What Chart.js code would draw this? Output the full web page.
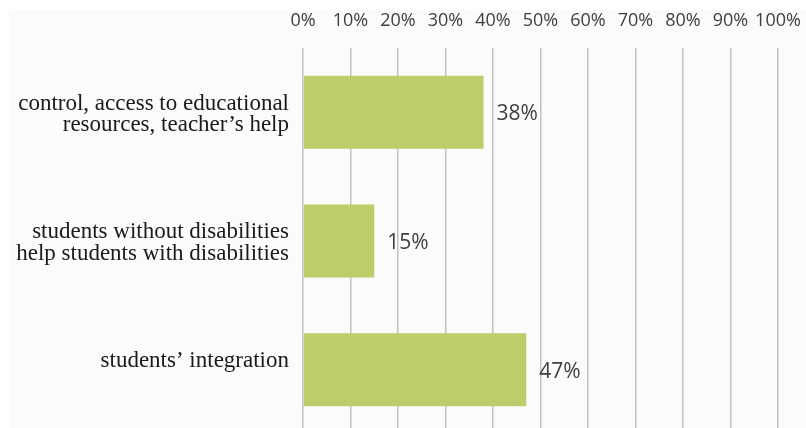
<!DOCTYPE html>
<html>
<head>
<meta charset="utf-8">
<script src="https://cdn.jsdelivr.net/npm/chart.js@4"></script>
<style>
  html, body { margin: 0; padding: 0; background: #ffffff; overflow: hidden; }
  canvas { display: block; }
</style>
</head>
<body>
<canvas id="chart" width="806" height="434"></canvas>
<script>
// Answers (share of respondents, %)
// the single-line label gets an empty second line so it sits a little high
const categories = [
  ["control, access to educational", "resources, teacher\u2019s help"],
  ["students without disabilities", "help students with disabilities"],
  ["students\u2019 integration", ""]
];
const shares = [38, 15, 47];
const tickValues = [0, 10, 20, 30, 40, 50, 60, 70, 80, 90, 100];

// light panel behind the plot
const panel = {
  id: "panel",
  beforeDraw(chart) {
    const ctx = chart.ctx;
    ctx.save();
    ctx.fillStyle = "#fbfbfb";
    ctx.fillRect(9, 10, chart.width - 9, chart.height - 10);
    ctx.restore();
  }
};

// percentage text to the right of each bar
const valueLabels = {
  id: "valueLabels",
  afterDatasetsDraw(chart) {
    const ctx = chart.ctx;
    const meta = chart.getDatasetMeta(0);
    ctx.save();
    ctx.font = "21px 'Open Sans'";
    ctx.fillStyle = "#404040";
    ctx.textAlign = "left";
    ctx.textBaseline = "middle";
    meta.data.forEach((bar, i) => {
      ctx.fillText(shares[i] + "%", bar.x + 13, bar.y + 2);
    });
    ctx.restore();
  }
};

const ctx = document.getElementById("chart").getContext("2d");
new Chart(ctx, {
  type: "bar",
  data: {
    labels: categories,
    datasets: [
      {
        data: shares,
        backgroundColor: "#bccd69",
        borderWidth: 0,
        categoryPercentage: 1,
        barPercentage: 0.568
      }
    ]
  },
  options: {
    indexAxis: "y",
    responsive: false,
    animation: false,
    layout: { padding: { left: 0, right: 28, top: 0, bottom: 0 } },
    plugins: {
      legend: { display: false },
      tooltip: { enabled: false }
    },
    scales: {
      x: {
        position: "top",
        min: 0,
        max: 100,
        afterBuildTicks(scale) {
          scale.ticks = tickValues.map((v) => ({ value: v }));
        },
        afterFit(scale) {
          scale.height = 48;
          scale.paddingLeft = 0;
          scale.paddingRight = 0;
        },
        grid: {
          color: "#c2c2c2",
          lineWidth: 1.5,
          drawTicks: false
        },
        border: { display: false },
        ticks: {
          padding: 16,
          minRotation: 0,
          maxRotation: 0,
          autoSkip: false,
          color: "#404040",
          font: { family: "'Open Sans'", size: 18 },
          callback: (v) => v + "%"
        }
      },
      y: {
        afterFit(scale) {
          scale.width = 303;
          scale.paddingTop = 0;
          scale.paddingBottom = 0;
        },
        grid: { display: false, drawTicks: false },
        border: { display: false },
        ticks: {
          padding: 14,
          labelOffset: 2,
          color: "#1a1a1a",
          font: { family: "'Liberation Serif'", size: 23, lineHeight: 0.94 }
        }
      }
    }
  },
  plugins: [panel, valueLabels]
});
</script>
</body>
</html>
